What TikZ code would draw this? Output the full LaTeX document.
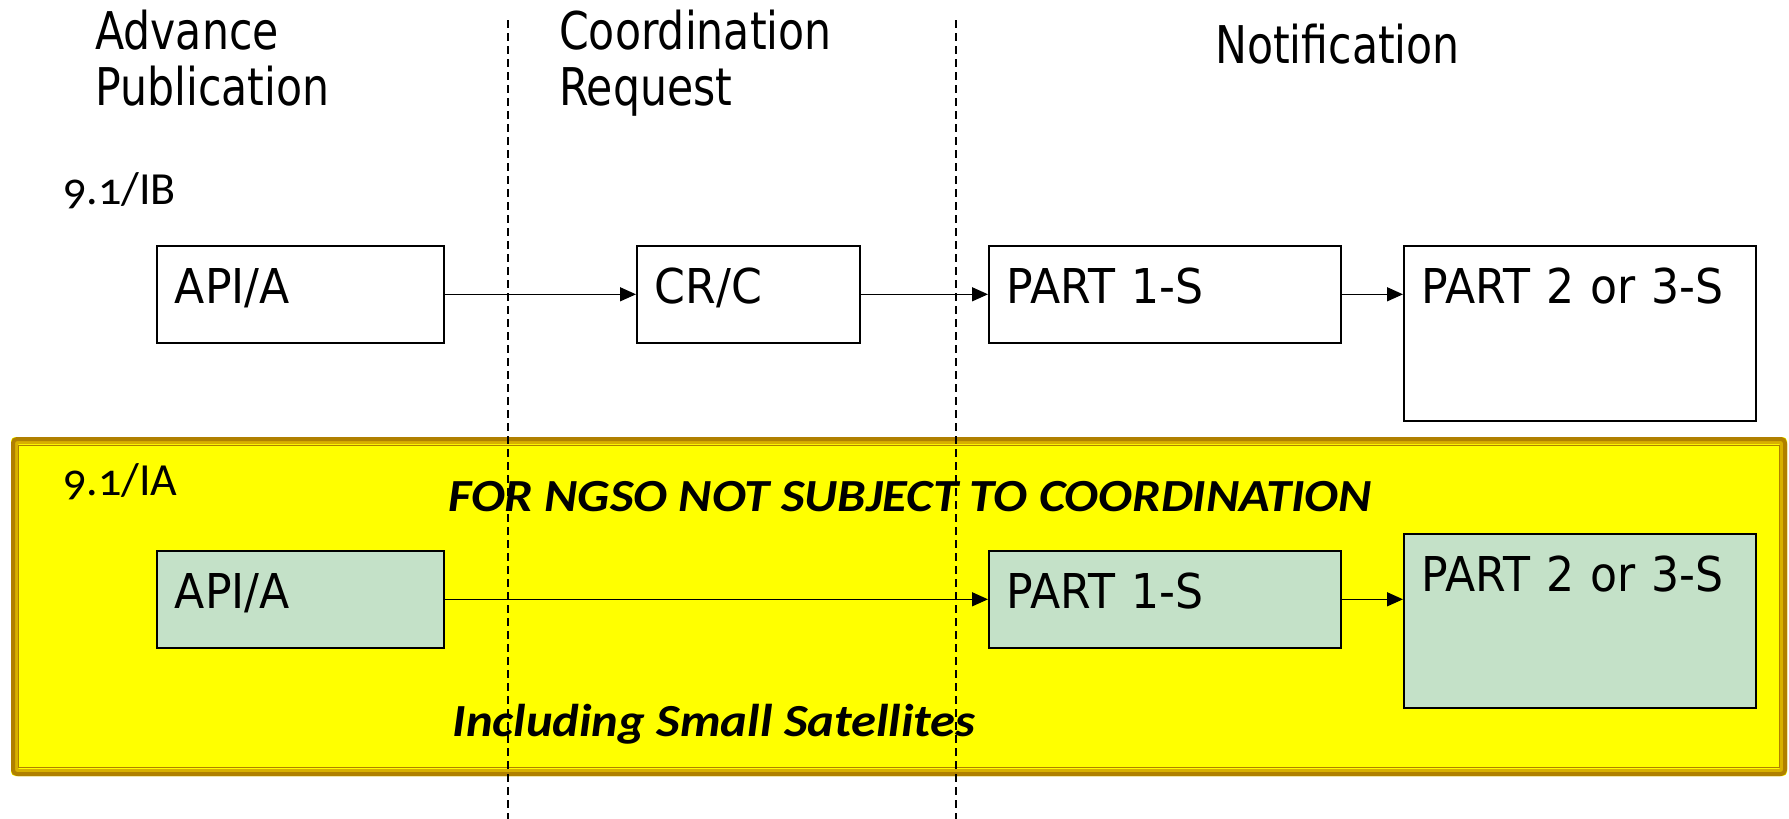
\documentclass[tikz,border=0pt]{standalone}
\usepackage{fontspec}
\usetikzlibrary{arrows.meta}
\newfontfamily\boxfont[FakeStretch=0.92]{DejaVu Sans}
\newfontfamily\headfont[FakeStretch=0.82]{DejaVu Sans}
\newfontfamily\tagfont[Numbers=OldStyle]{Carlito}
\newfontfamily\notefont[FakeStretch=1.1]{Carlito}
\definecolor{hiyellow}{HTML}{FFFF00}
\definecolor{boxgreen}{HTML}{C4E1C8}
\definecolor{golddark}{HTML}{B08000}
\definecolor{goldlight}{HTML}{D8B000}
\begin{document}
\begin{tikzpicture}[x=1pt,y=-1pt,
    stepbox/.style={draw,line width=1.6pt,anchor=north west,inner xsep=18pt,inner ysep=0pt,
      text height=58pt,align=left,font=\boxfont\fontsize{48}{56}\selectfont},
    head/.style={anchor=base west,align=left,inner sep=0pt,font=\headfont\fontsize{52}{56}\selectfont},
    tag/.style={anchor=base west,inner sep=0pt,font=\tagfont\fontsize{46}{50}\selectfont},
    note/.style={anchor=base,inner sep=0pt,font=\notefont\bfseries\itshape\fontsize{46}{50}\selectfont},
    flow/.style={line width=1.4pt,-{Triangle[length=16pt,width=14pt]}},
    divider/.style={line width=1.3pt,dash pattern=on 8pt off 5pt}]

    \useasboundingbox (0,0) rectangle (1789,819);

    % yellow band
    \fill[hiyellow,rounded corners=4pt] (11,437) rectangle (1787,776);
    \draw[goldlight,line width=7pt,rounded corners=4pt] (14.5,440.5) rectangle (1783.5,772.5);
    \draw[golddark,line width=4pt,rounded corners=4pt] (13,439) rectangle (1785,774);
    \draw[golddark,line width=1pt] (18.5,445.5) rectangle (1779.5,767.5);

    \node[head] (advance) at (95,105) {Advance\\Publication};
    \node[head] (coord) at (559,105) {Coordination\\Request};
    \node[head] (notif) at (1215,63) {Notification};

    \node[tag] (tagB) at (63,204) {9.1/IB};
    \node[tag] (tagA) at (63,495) {9.1/IA};

    \node[stepbox,text width=251pt,text depth=39pt] (apiB) at (156,245) {API/A};
    \node[stepbox,text width=187pt,text depth=39pt] (crB) at (636,245) {CR/C};
    \node[stepbox,text width=316pt,text depth=39pt] (oneB) at (988,245) {PART~1-S};
    \node[stepbox,text width=316pt,text depth=117pt] (twoB) at (1403,245) {PART~2~or~3-S};

    \draw[flow] (apiB) -- (crB);
    \draw[flow] (crB) -- (oneB);
    \draw[flow] (oneB.east) -- (oneB.east -| twoB.west);

    \node[note] (ngso) at (910,511) {FOR NGSO NOT SUBJECT TO COORDINATION};

    \node[stepbox,fill=boxgreen,text width=251pt,text depth=39pt] (apiA) at (156,550) {API/A};
    \node[stepbox,fill=boxgreen,text width=316pt,text depth=39pt] (oneA) at (988,550) {PART~1-S};
    \node[stepbox,fill=boxgreen,text width=316pt,text depth=116pt] (twoA) at (1403,533) {PART~2~or~3-S};

    \draw[flow] (apiA) -- (oneA);
    \draw[flow] (oneA.east) -- (oneA.east -| twoA.west);

    \node[note] (small) at (714,736) {Including Small Satellites};

    \coordinate (divAtop) at (508,20);
    \coordinate (divAbot) at (508,819);
    \coordinate (divBtop) at (956,20);
    \coordinate (divBbot) at (956,819);
    \draw[divider] (divAtop) -- (divAbot);
    \draw[divider] (divBtop) -- (divBbot);

\end{tikzpicture}
\end{document}
